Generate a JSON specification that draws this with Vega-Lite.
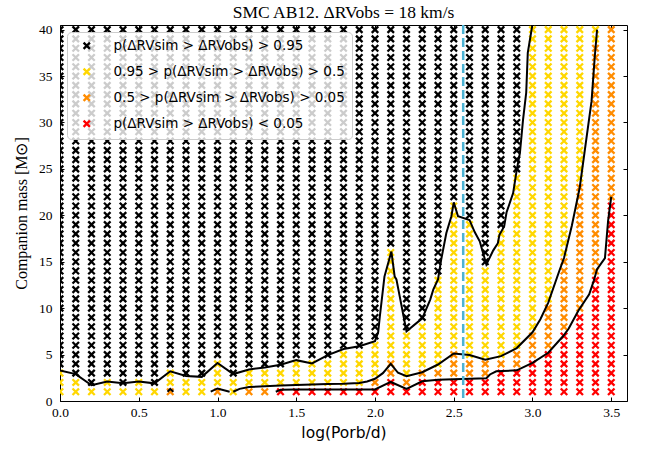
{
"$schema": "https://vega.github.io/schema/vega-lite/v6.json",
"width": 567, "height": 376,
"autosize": {"type": "none"},
"padding": {"left": 60, "top": 25, "right": 27, "bottom": 54},
"background": "white",
"config": {"view": {"stroke": "black", "strokeWidth": 1}, "font": "Liberation Serif"},
"title": {"text": "SMC AB12. ΔRVobs = 18 km/s", "font": "Liberation Serif", "fontSize": 17.5, "fontWeight": "normal", "color": "black", "frame": "group", "anchor": "middle", "offset": 1},
"layer": [
{
"data": {"format": {"type": "csv", "parse": {"x": "number", "y": "number"}}, "values": "x,y,c\n0,1,y\n0,2,y\n0,3,y\n0,4,k\n0,5,k\n0,6,k\n0,7,k\n0,8,k\n0,9,k\n0,10,k\n0,11,k\n0,12,k\n0,13,k\n0,14,k\n0,15,k\n0,16,k\n0,17,k\n0,18,k\n0,19,k\n0,20,k\n0,21,k\n0,22,k\n0,23,k\n0,24,k\n0,25,k\n0,26,k\n0,27,k\n0,28,k\n0,29,k\n0,30,k\n0,31,k\n0,32,k\n0,33,k\n0,34,k\n0,35,k\n0,36,k\n0,37,k\n0,38,k\n0,39,k\n0,40,k\n0.1,1,y\n0.1,2,y\n0.1,3,k\n0.1,4,k\n0.1,5,k\n0.1,6,k\n0.1,7,k\n0.1,8,k\n0.1,9,k\n0.1,10,k\n0.1,11,k\n0.1,12,k\n0.1,13,k\n0.1,14,k\n0.1,15,k\n0.1,16,k\n0.1,17,k\n0.1,18,k\n0.1,19,k\n0.1,20,k\n0.1,21,k\n0.1,22,k\n0.1,23,k\n0.1,24,k\n0.1,25,k\n0.1,26,k\n0.1,27,k\n0.1,28,k\n0.1,29,k\n0.1,30,k\n0.1,31,k\n0.1,32,k\n0.1,33,k\n0.1,34,k\n0.1,35,k\n0.1,36,k\n0.1,37,k\n0.1,38,k\n0.1,39,k\n0.1,40,k\n0.2,1,y\n0.2,2,k\n0.2,3,k\n0.2,4,k\n0.2,5,k\n0.2,6,k\n0.2,7,k\n0.2,8,k\n0.2,9,k\n0.2,10,k\n0.2,11,k\n0.2,12,k\n0.2,13,k\n0.2,14,k\n0.2,15,k\n0.2,16,k\n0.2,17,k\n0.2,18,k\n0.2,19,k\n0.2,20,k\n0.2,21,k\n0.2,22,k\n0.2,23,k\n0.2,24,k\n0.2,25,k\n0.2,26,k\n0.2,27,k\n0.2,28,k\n0.2,29,k\n0.2,30,k\n0.2,31,k\n0.2,32,k\n0.2,33,k\n0.2,34,k\n0.2,35,k\n0.2,36,k\n0.2,37,k\n0.2,38,k\n0.2,39,k\n0.2,40,k\n0.3,1,y\n0.3,2,y\n0.3,3,k\n0.3,4,k\n0.3,5,k\n0.3,6,k\n0.3,7,k\n0.3,8,k\n0.3,9,k\n0.3,10,k\n0.3,11,k\n0.3,12,k\n0.3,13,k\n0.3,14,k\n0.3,15,k\n0.3,16,k\n0.3,17,k\n0.3,18,k\n0.3,19,k\n0.3,20,k\n0.3,21,k\n0.3,22,k\n0.3,23,k\n0.3,24,k\n0.3,25,k\n0.3,26,k\n0.3,27,k\n0.3,28,k\n0.3,29,k\n0.3,30,k\n0.3,31,k\n0.3,32,k\n0.3,33,k\n0.3,34,k\n0.3,35,k\n0.3,36,k\n0.3,37,k\n0.3,38,k\n0.3,39,k\n0.3,40,k\n0.4,1,y\n0.4,2,k\n0.4,3,k\n0.4,4,k\n0.4,5,k\n0.4,6,k\n0.4,7,k\n0.4,8,k\n0.4,9,k\n0.4,10,k\n0.4,11,k\n0.4,12,k\n0.4,13,k\n0.4,14,k\n0.4,15,k\n0.4,16,k\n0.4,17,k\n0.4,18,k\n0.4,19,k\n0.4,20,k\n0.4,21,k\n0.4,22,k\n0.4,23,k\n0.4,24,k\n0.4,25,k\n0.4,26,k\n0.4,27,k\n0.4,28,k\n0.4,29,k\n0.4,30,k\n0.4,31,k\n0.4,32,k\n0.4,33,k\n0.4,34,k\n0.4,35,k\n0.4,36,k\n0.4,37,k\n0.4,38,k\n0.4,39,k\n0.4,40,k\n0.5,1,y\n0.5,2,y\n0.5,3,k\n0.5,4,k\n0.5,5,k\n0.5,6,k\n0.5,7,k\n0.5,8,k\n0.5,9,k\n0.5,10,k\n0.5,11,k\n0.5,12,k\n0.5,13,k\n0.5,14,k\n0.5,15,k\n0.5,16,k\n0.5,17,k\n0.5,18,k\n0.5,19,k\n0.5,20,k\n0.5,21,k\n0.5,22,k\n0.5,23,k\n0.5,24,k\n0.5,25,k\n0.5,26,k\n0.5,27,k\n0.5,28,k\n0.5,29,k\n0.5,30,k\n0.5,31,k\n0.5,32,k\n0.5,33,k\n0.5,34,k\n0.5,35,k\n0.5,36,k\n0.5,37,k\n0.5,38,k\n0.5,39,k\n0.5,40,k\n0.6,1,y\n0.6,2,k\n0.6,3,k\n0.6,4,k\n0.6,5,k\n0.6,6,k\n0.6,7,k\n0.6,8,k\n0.6,9,k\n0.6,10,k\n0.6,11,k\n0.6,12,k\n0.6,13,k\n0.6,14,k\n0.6,15,k\n0.6,16,k\n0.6,17,k\n0.6,18,k\n0.6,19,k\n0.6,20,k\n0.6,21,k\n0.6,22,k\n0.6,23,k\n0.6,24,k\n0.6,25,k\n0.6,26,k\n0.6,27,k\n0.6,28,k\n0.6,29,k\n0.6,30,k\n0.6,31,k\n0.6,32,k\n0.6,33,k\n0.6,34,k\n0.6,35,k\n0.6,36,k\n0.6,37,k\n0.6,38,k\n0.6,39,k\n0.6,40,k\n0.7,1,o\n0.7,2,y\n0.7,3,y\n0.7,4,k\n0.7,5,k\n0.7,6,k\n0.7,7,k\n0.7,8,k\n0.7,9,k\n0.7,10,k\n0.7,11,k\n0.7,12,k\n0.7,13,k\n0.7,14,k\n0.7,15,k\n0.7,16,k\n0.7,17,k\n0.7,18,k\n0.7,19,k\n0.7,20,k\n0.7,21,k\n0.7,22,k\n0.7,23,k\n0.7,24,k\n0.7,25,k\n0.7,26,k\n0.7,27,k\n0.7,28,k\n0.7,29,k\n0.7,30,k\n0.7,31,k\n0.7,32,k\n0.7,33,k\n0.7,34,k\n0.7,35,k\n0.7,36,k\n0.7,37,k\n0.7,38,k\n0.7,39,k\n0.7,40,k\n0.8,1,y\n0.8,2,y\n0.8,3,k\n0.8,4,k\n0.8,5,k\n0.8,6,k\n0.8,7,k\n0.8,8,k\n0.8,9,k\n0.8,10,k\n0.8,11,k\n0.8,12,k\n0.8,13,k\n0.8,14,k\n0.8,15,k\n0.8,16,k\n0.8,17,k\n0.8,18,k\n0.8,19,k\n0.8,20,k\n0.8,21,k\n0.8,22,k\n0.8,23,k\n0.8,24,k\n0.8,25,k\n0.8,26,k\n0.8,27,k\n0.8,28,k\n0.8,29,k\n0.8,30,k\n0.8,31,k\n0.8,32,k\n0.8,33,k\n0.8,34,k\n0.8,35,k\n0.8,36,k\n0.8,37,k\n0.8,38,k\n0.8,39,k\n0.8,40,k\n0.9,1,y\n0.9,2,y\n0.9,3,k\n0.9,4,k\n0.9,5,k\n0.9,6,k\n0.9,7,k\n0.9,8,k\n0.9,9,k\n0.9,10,k\n0.9,11,k\n0.9,12,k\n0.9,13,k\n0.9,14,k\n0.9,15,k\n0.9,16,k\n0.9,17,k\n0.9,18,k\n0.9,19,k\n0.9,20,k\n0.9,21,k\n0.9,22,k\n0.9,23,k\n0.9,24,k\n0.9,25,k\n0.9,26,k\n0.9,27,k\n0.9,28,k\n0.9,29,k\n0.9,30,k\n0.9,31,k\n0.9,32,k\n0.9,33,k\n0.9,34,k\n0.9,35,k\n0.9,36,k\n0.9,37,k\n0.9,38,k\n0.9,39,k\n0.9,40,k\n1,1,o\n1,2,y\n1,3,y\n1,4,y\n1,5,k\n1,6,k\n1,7,k\n1,8,k\n1,9,k\n1,10,k\n1,11,k\n1,12,k\n1,13,k\n1,14,k\n1,15,k\n1,16,k\n1,17,k\n1,18,k\n1,19,k\n1,20,k\n1,21,k\n1,22,k\n1,23,k\n1,24,k\n1,25,k\n1,26,k\n1,27,k\n1,28,k\n1,29,k\n1,30,k\n1,31,k\n1,32,k\n1,33,k\n1,34,k\n1,35,k\n1,36,k\n1,37,k\n1,38,k\n1,39,k\n1,40,k\n1.1,1,y\n1.1,2,y\n1.1,3,k\n1.1,4,k\n1.1,5,k\n1.1,6,k\n1.1,7,k\n1.1,8,k\n1.1,9,k\n1.1,10,k\n1.1,11,k\n1.1,12,k\n1.1,13,k\n1.1,14,k\n1.1,15,k\n1.1,16,k\n1.1,17,k\n1.1,18,k\n1.1,19,k\n1.1,20,k\n1.1,21,k\n1.1,22,k\n1.1,23,k\n1.1,24,k\n1.1,25,k\n1.1,26,k\n1.1,27,k\n1.1,28,k\n1.1,29,k\n1.1,30,k\n1.1,31,k\n1.1,32,k\n1.1,33,k\n1.1,34,k\n1.1,35,k\n1.1,36,k\n1.1,37,k\n1.1,38,k\n1.1,39,k\n1.1,40,k\n1.2,1,o\n1.2,2,y\n1.2,3,y\n1.2,4,k\n1.2,5,k\n1.2,6,k\n1.2,7,k\n1.2,8,k\n1.2,9,k\n1.2,10,k\n1.2,11,k\n1.2,12,k\n1.2,13,k\n1.2,14,k\n1.2,15,k\n1.2,16,k\n1.2,17,k\n1.2,18,k\n1.2,19,k\n1.2,20,k\n1.2,21,k\n1.2,22,k\n1.2,23,k\n1.2,24,k\n1.2,25,k\n1.2,26,k\n1.2,27,k\n1.2,28,k\n1.2,29,k\n1.2,30,k\n1.2,31,k\n1.2,32,k\n1.2,33,k\n1.2,34,k\n1.2,35,k\n1.2,36,k\n1.2,37,k\n1.2,38,k\n1.2,39,k\n1.2,40,k\n1.3,1,o\n1.3,2,y\n1.3,3,y\n1.3,4,k\n1.3,5,k\n1.3,6,k\n1.3,7,k\n1.3,8,k\n1.3,9,k\n1.3,10,k\n1.3,11,k\n1.3,12,k\n1.3,13,k\n1.3,14,k\n1.3,15,k\n1.3,16,k\n1.3,17,k\n1.3,18,k\n1.3,19,k\n1.3,20,k\n1.3,21,k\n1.3,22,k\n1.3,23,k\n1.3,24,k\n1.3,25,k\n1.3,26,k\n1.3,27,k\n1.3,28,k\n1.3,29,k\n1.3,30,k\n1.3,31,k\n1.3,32,k\n1.3,33,k\n1.3,34,k\n1.3,35,k\n1.3,36,k\n1.3,37,k\n1.3,38,k\n1.3,39,k\n1.3,40,k\n1.4,1,r\n1.4,2,y\n1.4,3,y\n1.4,4,k\n1.4,5,k\n1.4,6,k\n1.4,7,k\n1.4,8,k\n1.4,9,k\n1.4,10,k\n1.4,11,k\n1.4,12,k\n1.4,13,k\n1.4,14,k\n1.4,15,k\n1.4,16,k\n1.4,17,k\n1.4,18,k\n1.4,19,k\n1.4,20,k\n1.4,21,k\n1.4,22,k\n1.4,23,k\n1.4,24,k\n1.4,25,k\n1.4,26,k\n1.4,27,k\n1.4,28,k\n1.4,29,k\n1.4,30,k\n1.4,31,k\n1.4,32,k\n1.4,33,k\n1.4,34,k\n1.4,35,k\n1.4,36,k\n1.4,37,k\n1.4,38,k\n1.4,39,k\n1.4,40,k\n1.5,1,r\n1.5,2,y\n1.5,3,y\n1.5,4,y\n1.5,5,k\n1.5,6,k\n1.5,7,k\n1.5,8,k\n1.5,9,k\n1.5,10,k\n1.5,11,k\n1.5,12,k\n1.5,13,k\n1.5,14,k\n1.5,15,k\n1.5,16,k\n1.5,17,k\n1.5,18,k\n1.5,19,k\n1.5,20,k\n1.5,21,k\n1.5,22,k\n1.5,23,k\n1.5,24,k\n1.5,25,k\n1.5,26,k\n1.5,27,k\n1.5,28,k\n1.5,29,k\n1.5,30,k\n1.5,31,k\n1.5,32,k\n1.5,33,k\n1.5,34,k\n1.5,35,k\n1.5,36,k\n1.5,37,k\n1.5,38,k\n1.5,39,k\n1.5,40,k\n1.6,1,r\n1.6,2,y\n1.6,3,y\n1.6,4,y\n1.6,5,k\n1.6,6,k\n1.6,7,k\n1.6,8,k\n1.6,9,k\n1.6,10,k\n1.6,11,k\n1.6,12,k\n1.6,13,k\n1.6,14,k\n1.6,15,k\n1.6,16,k\n1.6,17,k\n1.6,18,k\n1.6,19,k\n1.6,20,k\n1.6,21,k\n1.6,22,k\n1.6,23,k\n1.6,24,k\n1.6,25,k\n1.6,26,k\n1.6,27,k\n1.6,28,k\n1.6,29,k\n1.6,30,k\n1.6,31,k\n1.6,32,k\n1.6,33,k\n1.6,34,k\n1.6,35,k\n1.6,36,k\n1.6,37,k\n1.6,38,k\n1.6,39,k\n1.6,40,k\n1.7,1,r\n1.7,2,y\n1.7,3,y\n1.7,4,y\n1.7,5,k\n1.7,6,k\n1.7,7,k\n1.7,8,k\n1.7,9,k\n1.7,10,k\n1.7,11,k\n1.7,12,k\n1.7,13,k\n1.7,14,k\n1.7,15,k\n1.7,16,k\n1.7,17,k\n1.7,18,k\n1.7,19,k\n1.7,20,k\n1.7,21,k\n1.7,22,k\n1.7,23,k\n1.7,24,k\n1.7,25,k\n1.7,26,k\n1.7,27,k\n1.7,28,k\n1.7,29,k\n1.7,30,k\n1.7,31,k\n1.7,32,k\n1.7,33,k\n1.7,34,k\n1.7,35,k\n1.7,36,k\n1.7,37,k\n1.7,38,k\n1.7,39,k\n1.7,40,k\n1.8,1,r\n1.8,2,y\n1.8,3,y\n1.8,4,y\n1.8,5,y\n1.8,6,k\n1.8,7,k\n1.8,8,k\n1.8,9,k\n1.8,10,k\n1.8,11,k\n1.8,12,k\n1.8,13,k\n1.8,14,k\n1.8,15,k\n1.8,16,k\n1.8,17,k\n1.8,18,k\n1.8,19,k\n1.8,20,k\n1.8,21,k\n1.8,22,k\n1.8,23,k\n1.8,24,k\n1.8,25,k\n1.8,26,k\n1.8,27,k\n1.8,28,k\n1.8,29,k\n1.8,30,k\n1.8,31,k\n1.8,32,k\n1.8,33,k\n1.8,34,k\n1.8,35,k\n1.8,36,k\n1.8,37,k\n1.8,38,k\n1.8,39,k\n1.8,40,k\n1.9,1,r\n1.9,2,y\n1.9,3,y\n1.9,4,y\n1.9,5,y\n1.9,6,k\n1.9,7,k\n1.9,8,k\n1.9,9,k\n1.9,10,k\n1.9,11,k\n1.9,12,k\n1.9,13,k\n1.9,14,k\n1.9,15,k\n1.9,16,k\n1.9,17,k\n1.9,18,k\n1.9,19,k\n1.9,20,k\n1.9,21,k\n1.9,22,k\n1.9,23,k\n1.9,24,k\n1.9,25,k\n1.9,26,k\n1.9,27,k\n1.9,28,k\n1.9,29,k\n1.9,30,k\n1.9,31,k\n1.9,32,k\n1.9,33,k\n1.9,34,k\n1.9,35,k\n1.9,36,k\n1.9,37,k\n1.9,38,k\n1.9,39,k\n1.9,40,k\n2,1,r\n2,2,o\n2,3,y\n2,4,y\n2,5,y\n2,6,y\n2,7,k\n2,8,k\n2,9,k\n2,10,k\n2,11,k\n2,12,k\n2,13,k\n2,14,k\n2,15,k\n2,16,k\n2,17,k\n2,18,k\n2,19,k\n2,20,k\n2,21,k\n2,22,k\n2,23,k\n2,24,k\n2,25,k\n2,26,k\n2,27,k\n2,28,k\n2,29,k\n2,30,k\n2,31,k\n2,32,k\n2,33,k\n2,34,k\n2,35,k\n2,36,k\n2,37,k\n2,38,k\n2,39,k\n2,40,k\n2.1,1,r\n2.1,2,r\n2.1,3,o\n2.1,4,o\n2.1,5,y\n2.1,6,y\n2.1,7,y\n2.1,8,y\n2.1,9,y\n2.1,10,y\n2.1,11,y\n2.1,12,y\n2.1,13,y\n2.1,14,y\n2.1,15,y\n2.1,16,y\n2.1,17,k\n2.1,18,k\n2.1,19,k\n2.1,20,k\n2.1,21,k\n2.1,22,k\n2.1,23,k\n2.1,24,k\n2.1,25,k\n2.1,26,k\n2.1,27,k\n2.1,28,k\n2.1,29,k\n2.1,30,k\n2.1,31,k\n2.1,32,k\n2.1,33,k\n2.1,34,k\n2.1,35,k\n2.1,36,k\n2.1,37,k\n2.1,38,k\n2.1,39,k\n2.1,40,k\n2.2,1,r\n2.2,2,o\n2.2,3,y\n2.2,4,y\n2.2,5,y\n2.2,6,y\n2.2,7,y\n2.2,8,k\n2.2,9,k\n2.2,10,k\n2.2,11,k\n2.2,12,k\n2.2,13,k\n2.2,14,k\n2.2,15,k\n2.2,16,k\n2.2,17,k\n2.2,18,k\n2.2,19,k\n2.2,20,k\n2.2,21,k\n2.2,22,k\n2.2,23,k\n2.2,24,k\n2.2,25,k\n2.2,26,k\n2.2,27,k\n2.2,28,k\n2.2,29,k\n2.2,30,k\n2.2,31,k\n2.2,32,k\n2.2,33,k\n2.2,34,k\n2.2,35,k\n2.2,36,k\n2.2,37,k\n2.2,38,k\n2.2,39,k\n2.2,40,k\n2.3,1,r\n2.3,2,r\n2.3,3,o\n2.3,4,y\n2.3,5,y\n2.3,6,y\n2.3,7,y\n2.3,8,y\n2.3,9,k\n2.3,10,k\n2.3,11,k\n2.3,12,k\n2.3,13,k\n2.3,14,k\n2.3,15,k\n2.3,16,k\n2.3,17,k\n2.3,18,k\n2.3,19,k\n2.3,20,k\n2.3,21,k\n2.3,22,k\n2.3,23,k\n2.3,24,k\n2.3,25,k\n2.3,26,k\n2.3,27,k\n2.3,28,k\n2.3,29,k\n2.3,30,k\n2.3,31,k\n2.3,32,k\n2.3,33,k\n2.3,34,k\n2.3,35,k\n2.3,36,k\n2.3,37,k\n2.3,38,k\n2.3,39,k\n2.3,40,k\n2.4,1,r\n2.4,2,r\n2.4,3,o\n2.4,4,y\n2.4,5,y\n2.4,6,y\n2.4,7,y\n2.4,8,y\n2.4,9,y\n2.4,10,y\n2.4,11,y\n2.4,12,y\n2.4,13,y\n2.4,14,k\n2.4,15,k\n2.4,16,k\n2.4,17,k\n2.4,18,k\n2.4,19,k\n2.4,20,k\n2.4,21,k\n2.4,22,k\n2.4,23,k\n2.4,24,k\n2.4,25,k\n2.4,26,k\n2.4,27,k\n2.4,28,k\n2.4,29,k\n2.4,30,k\n2.4,31,k\n2.4,32,k\n2.4,33,k\n2.4,34,k\n2.4,35,k\n2.4,36,k\n2.4,37,k\n2.4,38,k\n2.4,39,k\n2.4,40,k\n2.5,1,r\n2.5,2,r\n2.5,3,o\n2.5,4,o\n2.5,5,o\n2.5,6,y\n2.5,7,y\n2.5,8,y\n2.5,9,y\n2.5,10,y\n2.5,11,y\n2.5,12,y\n2.5,13,y\n2.5,14,y\n2.5,15,y\n2.5,16,y\n2.5,17,y\n2.5,18,y\n2.5,19,y\n2.5,20,y\n2.5,21,y\n2.5,22,k\n2.5,23,k\n2.5,24,k\n2.5,25,k\n2.5,26,k\n2.5,27,k\n2.5,28,k\n2.5,29,k\n2.5,30,k\n2.5,31,k\n2.5,32,k\n2.5,33,k\n2.5,34,k\n2.5,35,k\n2.5,36,k\n2.5,37,k\n2.5,38,k\n2.5,39,k\n2.5,40,k\n2.6,1,r\n2.6,2,r\n2.6,3,o\n2.6,4,o\n2.6,5,y\n2.6,6,y\n2.6,7,y\n2.6,8,y\n2.6,9,y\n2.6,10,y\n2.6,11,y\n2.6,12,y\n2.6,13,y\n2.6,14,y\n2.6,15,y\n2.6,16,y\n2.6,17,y\n2.6,18,y\n2.6,19,y\n2.6,20,k\n2.6,21,k\n2.6,22,k\n2.6,23,k\n2.6,24,k\n2.6,25,k\n2.6,26,k\n2.6,27,k\n2.6,28,k\n2.6,29,k\n2.6,30,k\n2.6,31,k\n2.6,32,k\n2.6,33,k\n2.6,34,k\n2.6,35,k\n2.6,36,k\n2.6,37,k\n2.6,38,k\n2.6,39,k\n2.6,40,k\n2.7,1,r\n2.7,2,r\n2.7,3,o\n2.7,4,o\n2.7,5,y\n2.7,6,y\n2.7,7,y\n2.7,8,y\n2.7,9,y\n2.7,10,y\n2.7,11,y\n2.7,12,y\n2.7,13,y\n2.7,14,y\n2.7,15,k\n2.7,16,k\n2.7,17,k\n2.7,18,k\n2.7,19,k\n2.7,20,k\n2.7,21,k\n2.7,22,k\n2.7,23,k\n2.7,24,k\n2.7,25,k\n2.7,26,k\n2.7,27,k\n2.7,28,k\n2.7,29,k\n2.7,30,k\n2.7,31,k\n2.7,32,k\n2.7,33,k\n2.7,34,k\n2.7,35,k\n2.7,36,k\n2.7,37,k\n2.7,38,k\n2.7,39,k\n2.7,40,k\n2.8,1,r\n2.8,2,r\n2.8,3,r\n2.8,4,o\n2.8,5,y\n2.8,6,y\n2.8,7,y\n2.8,8,y\n2.8,9,y\n2.8,10,y\n2.8,11,y\n2.8,12,y\n2.8,13,y\n2.8,14,y\n2.8,15,y\n2.8,16,y\n2.8,17,y\n2.8,18,y\n2.8,19,k\n2.8,20,k\n2.8,21,k\n2.8,22,k\n2.8,23,k\n2.8,24,k\n2.8,25,k\n2.8,26,k\n2.8,27,k\n2.8,28,k\n2.8,29,k\n2.8,30,k\n2.8,31,k\n2.8,32,k\n2.8,33,k\n2.8,34,k\n2.8,35,k\n2.8,36,k\n2.8,37,k\n2.8,38,k\n2.8,39,k\n2.8,40,k\n2.9,1,r\n2.9,2,r\n2.9,3,r\n2.9,4,o\n2.9,5,o\n2.9,6,y\n2.9,7,y\n2.9,8,y\n2.9,9,y\n2.9,10,y\n2.9,11,y\n2.9,12,y\n2.9,13,y\n2.9,14,y\n2.9,15,y\n2.9,16,y\n2.9,17,y\n2.9,18,y\n2.9,19,y\n2.9,20,y\n2.9,21,y\n2.9,22,y\n2.9,23,y\n2.9,24,y\n2.9,25,k\n2.9,26,k\n2.9,27,k\n2.9,28,k\n2.9,29,k\n2.9,30,k\n2.9,31,k\n2.9,32,k\n2.9,33,k\n2.9,34,k\n2.9,35,k\n2.9,36,k\n2.9,37,k\n2.9,38,k\n2.9,39,k\n2.9,40,k\n3,1,r\n3,2,r\n3,3,r\n3,4,r\n3,5,o\n3,6,o\n3,7,o\n3,8,y\n3,9,y\n3,10,y\n3,11,y\n3,12,y\n3,13,y\n3,14,y\n3,15,y\n3,16,y\n3,17,y\n3,18,y\n3,19,y\n3,20,y\n3,21,y\n3,22,y\n3,23,y\n3,24,y\n3,25,y\n3,26,y\n3,27,y\n3,28,y\n3,29,y\n3,30,y\n3,31,y\n3,32,y\n3,33,y\n3,34,y\n3,35,y\n3,36,y\n3,37,y\n3,38,y\n3,39,y\n3,40,y\n3.1,1,r\n3.1,2,r\n3.1,3,r\n3.1,4,r\n3.1,5,r\n3.1,6,o\n3.1,7,o\n3.1,8,o\n3.1,9,o\n3.1,10,o\n3.1,11,y\n3.1,12,y\n3.1,13,y\n3.1,14,y\n3.1,15,y\n3.1,16,y\n3.1,17,y\n3.1,18,y\n3.1,19,y\n3.1,20,y\n3.1,21,y\n3.1,22,y\n3.1,23,y\n3.1,24,y\n3.1,25,y\n3.1,26,y\n3.1,27,y\n3.1,28,y\n3.1,29,y\n3.1,30,y\n3.1,31,y\n3.1,32,y\n3.1,33,y\n3.1,34,y\n3.1,35,y\n3.1,36,y\n3.1,37,y\n3.1,38,y\n3.1,39,y\n3.1,40,y\n3.2,1,r\n3.2,2,r\n3.2,3,r\n3.2,4,r\n3.2,5,r\n3.2,6,r\n3.2,7,r\n3.2,8,o\n3.2,9,o\n3.2,10,o\n3.2,11,o\n3.2,12,o\n3.2,13,o\n3.2,14,o\n3.2,15,o\n3.2,16,y\n3.2,17,y\n3.2,18,y\n3.2,19,y\n3.2,20,y\n3.2,21,y\n3.2,22,y\n3.2,23,y\n3.2,24,y\n3.2,25,y\n3.2,26,y\n3.2,27,y\n3.2,28,y\n3.2,29,y\n3.2,30,y\n3.2,31,y\n3.2,32,y\n3.2,33,y\n3.2,34,y\n3.2,35,y\n3.2,36,y\n3.2,37,y\n3.2,38,y\n3.2,39,y\n3.2,40,y\n3.3,1,r\n3.3,2,r\n3.3,3,r\n3.3,4,r\n3.3,5,r\n3.3,6,r\n3.3,7,r\n3.3,8,r\n3.3,9,r\n3.3,10,o\n3.3,11,o\n3.3,12,o\n3.3,13,o\n3.3,14,o\n3.3,15,o\n3.3,16,o\n3.3,17,o\n3.3,18,o\n3.3,19,o\n3.3,20,o\n3.3,21,o\n3.3,22,o\n3.3,23,o\n3.3,24,y\n3.3,25,y\n3.3,26,y\n3.3,27,y\n3.3,28,y\n3.3,29,y\n3.3,30,y\n3.3,31,y\n3.3,32,y\n3.3,33,y\n3.3,34,y\n3.3,35,y\n3.3,36,y\n3.3,37,y\n3.3,38,y\n3.3,39,y\n3.3,40,y\n3.4,1,r\n3.4,2,r\n3.4,3,r\n3.4,4,r\n3.4,5,r\n3.4,6,r\n3.4,7,r\n3.4,8,r\n3.4,9,r\n3.4,10,r\n3.4,11,r\n3.4,12,r\n3.4,13,r\n3.4,14,o\n3.4,15,o\n3.4,16,o\n3.4,17,o\n3.4,18,o\n3.4,19,o\n3.4,20,o\n3.4,21,o\n3.4,22,o\n3.4,23,o\n3.4,24,o\n3.4,25,o\n3.4,26,o\n3.4,27,o\n3.4,28,o\n3.4,29,o\n3.4,30,o\n3.4,31,o\n3.4,32,o\n3.4,33,o\n3.4,34,o\n3.4,35,o\n3.4,36,o\n3.4,37,o\n3.4,38,o\n3.4,39,y\n3.4,40,y\n3.5,1,r\n3.5,2,r\n3.5,3,r\n3.5,4,r\n3.5,5,r\n3.5,6,r\n3.5,7,r\n3.5,8,r\n3.5,9,r\n3.5,10,r\n3.5,11,r\n3.5,12,r\n3.5,13,r\n3.5,14,r\n3.5,15,r\n3.5,16,r\n3.5,17,r\n3.5,18,r\n3.5,19,r\n3.5,20,r\n3.5,21,r\n3.5,22,o\n3.5,23,o\n3.5,24,o\n3.5,25,o\n3.5,26,o\n3.5,27,o\n3.5,28,o\n3.5,29,o\n3.5,30,o\n3.5,31,o\n3.5,32,o\n3.5,33,o\n3.5,34,o\n3.5,35,o\n3.5,36,o\n3.5,37,o\n3.5,38,o\n3.5,39,o\n3.5,40,o"},
"mark": {"type": "point", "shape": "M-1,-1L1,1M1,-1L-1,1", "filled": false, "size": 42, "strokeWidth": 2.3, "opacity": 1, "clip": true},
"encoding": {
"x": {"field": "x", "type": "quantitative", "scale": {"domain": [0, 3.6], "nice": false, "zero": false},
 "axis": {"values": [0, 0.5, 1, 1.5, 2, 2.5, 3, 3.5], "format": ".1f", "title": "log(Porb/d)", "titleFont": "DejaVu Sans", "titleFontSize": 15.5, "titleFontWeight": "normal", "titleColor": "black", "titlePadding": 7, "labelFont": "Liberation Serif", "labelFontSize": 13.5, "labelColor": "black", "labelPadding": 8, "labelFlush": false, "labelOverlap": false, "tickColor": "black", "tickSize": -4, "domain": false, "grid": false}},
"y": {"field": "y", "type": "quantitative", "scale": {"domain": [0, 40.5], "nice": false, "zero": false},
 "axis": {"values": [0, 5, 10, 15, 20, 25, 30, 35, 40], "title": "Companion mass [M⊙]", "titleFont": "Liberation Serif", "titleFontSize": 16, "titleFontWeight": "normal", "titleColor": "black", "titlePadding": 9, "labelFont": "Liberation Serif", "labelFontSize": 13.5, "labelColor": "black", "labelPadding": 12, "labelFlush": false, "labelOverlap": false, "tickColor": "black", "tickSize": -4, "domain": false, "grid": false}},
"color": {"field": "c", "type": "nominal", "scale": {"domain": ["k", "y", "o", "r"], "range": ["#000000", "#ffd700", "#ff8c00", "#ff0000"]},
 "legend": {"title": null, "orient": "top-left", "offset": 7, "fillColor": "rgba(255,255,255,0.8)", "strokeColor": "#cccccc", "cornerRadius": 4, "padding": 7, "rowPadding": 9, "symbolType": "M-1,-1L1,1M1,-1L-1,1", "symbolSize": 40, "symbolStrokeWidth": 2.3, "symbolOffset": 6, "labelOffset": 20, "labelFont": "DejaVu Sans", "labelFontSize": 13.5, "labelColor": "black", "labelLimit": 400,
 "labelExpr": "datum.value == 'k' ? 'p(ΔRVsim > ΔRVobs) > 0.95' : datum.value == 'y' ? '0.95 > p(ΔRVsim > ΔRVobs) > 0.5' : datum.value == 'o' ? '0.5 > p(ΔRVsim > ΔRVobs) > 0.05' : 'p(ΔRVsim > ΔRVobs) < 0.05'"}}
}
},
{
"data": {"format": {"type": "csv", "parse": {"x": "number", "y": "number"}}, "values": "s,x,y\na,0,3.3\na,0.1,2.9\na,0.2,1.7\na,0.3,2.1\na,0.4,1.9\na,0.5,2.1\na,0.6,1.9\na,0.7,3.2\na,0.8,2.7\na,0.9,2.6\na,1.0,4.1\na,1.1,2.9\na,1.2,3.4\na,1.3,3.6\na,1.4,3.9\na,1.5,4.4\na,1.6,4.05\na,1.7,4.95\na,1.8,5.6\na,1.9,5.9\na,2.0,6.45\na,2.02,7.4\na,2.03,9.0\na,2.06,13.4\na,2.104,16.1\na,2.125,13.4\na,2.136,13.1\na,2.2,7.5\na,2.3,8.9\na,2.35,10.9\na,2.37,12.0\na,2.4,13.1\na,2.42,15.2\na,2.453,18.1\na,2.485,19.9\na,2.5,21.4\na,2.527,19.9\na,2.6,19.5\na,2.633,18.2\na,2.665,17.2\na,2.707,14.7\na,2.75,16.2\na,2.78,17.0\na,2.79,17.9\na,2.82,18.8\na,2.835,20.3\na,2.877,22.4\na,2.9,24.9\na,2.92,26.7\na,2.94,30.3\na,2.96,33.2\na,2.97,37.5\na,3.0,40.6\nb,1.1,1.0\nb,1.14,1.31\nb,1.2,1.5\nb,1.3,1.6\nb,1.4,1.67\nb,1.5,1.72\nb,1.6,1.78\nb,1.7,1.82\nb,1.8,1.85\nb,1.9,1.95\nb,1.95,2.1\nb,2.0,2.39\nb,2.05,3.0\nb,2.1,4.0\nb,2.146,3.04\nb,2.2,2.67\nb,2.3,3.1\nb,2.4,3.93\nb,2.5,5.12\nb,2.6,4.95\nb,2.7,4.45\nb,2.8,4.83\nb,2.9,5.7\nb,3.0,7.4\nb,3.05,8.8\nb,3.1,10.6\nb,3.17,14.0\nb,3.2,15.4\nb,3.25,18.9\nb,3.3,23.0\nb,3.34,28.0\nb,3.375,32.3\nb,3.395,37.0\nb,3.41,40.0\nc,1.37,1.0\nc,1.4,1.2\nc,1.5,1.24\nc,2.0,1.24\nc,2.1,2.05\nc,2.2,1.31\nc,2.3,2.13\nc,2.4,2.3\nc,2.5,2.35\nc,2.707,2.45\nc,2.73,2.86\nc,2.77,3.2\nc,2.9,3.3\nc,3.0,4.1\nc,3.1,5.2\nc,3.195,7.0\nc,3.23,7.8\nc,3.29,9.7\nc,3.36,11.5\nc,3.39,13.0\nc,3.41,14.2\nc,3.46,15.4\nc,3.48,19.4\nc,3.5,22.0\nd,0.683,1.0\nd,0.7,1.3\nd,0.72,1.0\ne,0.957,1.0\ne,1.0,1.35\ne,1.077,1.0"},
"mark": {"type": "line", "color": "black", "strokeWidth": 2, "clip": true},
"encoding": {
"x": {"field": "x", "type": "quantitative", "scale": {"domain": [0, 3.6], "nice": false, "zero": false},
 "axis": {"orient": "top", "values": [0, 0.5, 1, 1.5, 2, 2.5, 3, 3.5], "labels": false, "title": null, "tickColor": "black", "tickSize": -4, "domain": false, "grid": false}},
"y": {"field": "y", "type": "quantitative", "scale": {"domain": [0, 40.5], "nice": false, "zero": false},
 "axis": {"orient": "right", "values": [0, 5, 10, 15, 20, 25, 30, 35, 40], "labels": false, "title": null, "tickColor": "black", "tickSize": -4, "domain": false, "grid": false}},
"detail": {"field": "s", "type": "nominal"}
}
},
{
"data": {"values": [{"logP": 2.56}]},
"mark": {"type": "rule", "color": "#4cb3d4", "strokeWidth": 2.5, "strokeDash": [9, 4]},
"encoding": {"x": {"field": "logP", "type": "quantitative", "axis": null}}
}
],
"resolve": {"axis": {"x": "independent", "y": "independent"}}
}
